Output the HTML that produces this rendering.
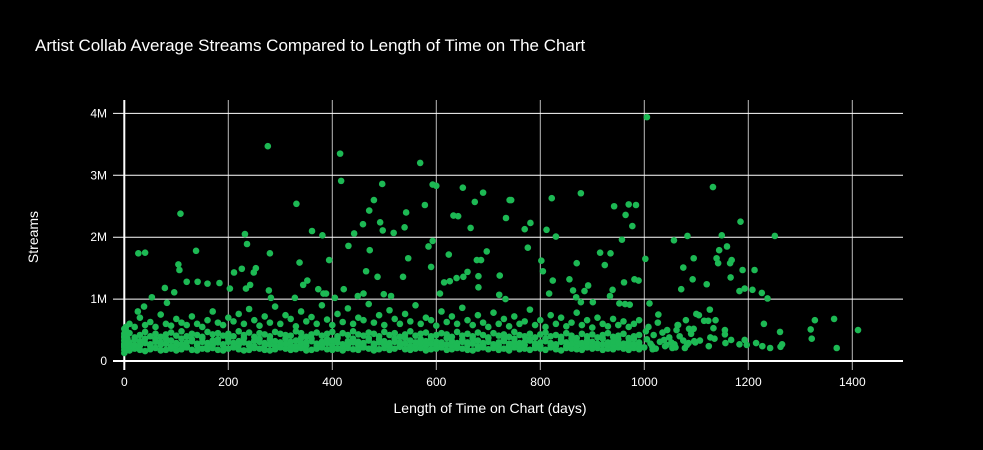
<!DOCTYPE html>
<html><head><meta charset="utf-8">
<style>
html,body{margin:0;padding:0;background:#000;}
svg{display:block;font-family:"Liberation Sans",sans-serif;}
</style></head>
<body>
<svg id="chart" width="983" height="450">
<rect width="983" height="450" fill="#000"/>
<text x="35" y="51" fill="#fff" font-size="17">Artist Collab Average Streams Compared to Length of Time on The Chart</text>
<g id="grid"></g>
<g id="pts"></g>
<g id="ticks"></g>
<text x="490" y="413" fill="#fff" font-size="14" text-anchor="middle">Length of Time on Chart (days)</text>
<text transform="translate(38,237) rotate(-90)" fill="#fff" font-size="14" text-anchor="middle">Streams</text>
</svg>
<script>
const xTicks=[0,200,400,600,800,1000,1200,1400];
const yTicks=[0,1,2,3,4];
const yTickLabels=["0","1M","2M","3M","4M"];
const outDays=[276,415,417,569,496,593,600,651,690,741,108,331,480,471,578,674,633,642,734,542,492,539,497,518,459,442,361,381,431,472,666,593,585,624,697,678,686,546,590,232,236,280,138,27,40,104,106,337,394,226,211,253,249,465,487,536,722,660,652,639,626,615,681,681,120,141,160,183,78,96,53,82,38,26,203,234,242,278,344,352,373,383,388,422,405,460,449,499,513,607,721,733,328,282,
1005,1132,744,822,878,770,781,812,830,776,942,970,984,964,977,957,1185,1083,1057,1149,1251,1159,1144,915,935,924,1002,870,802,805,1095,1075,1139,1142,1168,1165,1189,1212,1166,1093,1120,1071,1183,1193,1208,1226,1237,961,981,989,856,824,892,885,863,869,939,934,817,901,878,952,963,972,1010,1027,1126,1105,1100,1115,1123,1137,1080,1065,1062,1095,1133,1155,1155,1230,1261,1328,1365,1320,1322,1411,1370,1262,1265,1242,1227,1215,1197,1193,1183,1167,1156,1124,1135,1127,1107,1096,1085,1054,1043,1015];
const outVals=[3.47,3.35,2.91,3.2,2.86,2.85,2.83,2.8,2.72,2.6,2.38,2.54,2.6,2.43,2.52,2.57,2.35,2.34,2.31,2.4,2.24,2.16,2.11,2.07,2.21,2.06,2.1,2.03,1.86,1.79,2.15,1.94,1.85,1.72,1.77,1.63,1.63,1.66,1.52,2.05,1.89,1.74,1.78,1.74,1.75,1.56,1.47,1.59,1.63,1.49,1.43,1.5,1.43,1.45,1.36,1.36,1.38,1.44,1.36,1.34,1.29,1.27,1.37,1.19,1.28,1.28,1.25,1.26,1.18,1.11,1.03,0.94,0.88,0.8,1.17,1.17,1.23,1.14,1.23,1.3,1.16,1.09,1.09,1.16,1.02,1.09,1.05,1.08,1.05,1.09,1.07,1.0,1.02,1.02,
3.94,2.81,2.6,2.63,2.71,2.13,2.23,2.12,2.01,1.83,2.5,2.53,2.52,2.36,2.18,1.96,2.25,2.02,1.95,2.03,2.02,1.85,1.79,1.75,1.74,1.55,1.65,1.58,1.62,1.45,1.66,1.51,1.66,1.58,1.63,1.58,1.47,1.47,1.35,1.32,1.24,1.16,1.13,1.17,1.15,1.1,1.01,1.27,1.32,1.3,1.32,1.3,1.22,1.13,1.14,1.03,1.15,1.05,1.09,0.95,0.95,0.93,0.92,0.91,0.93,0.75,0.83,0.74,0.76,0.65,0.65,0.66,0.66,0.58,0.5,0.52,0.53,0.5,0.43,0.6,0.47,0.66,0.68,0.51,0.36,0.5,0.21,0.23,0.27,0.21,0.24,0.29,0.26,0.34,0.27,0.34,0.29,0.24,0.36,0.38,0.33,0.32,0.29,0.21,0.26,0.24];
const bandDays=[0,10,20,30,40,50,60,70,80,90,100,110,120,130,140,150,160,170,180,190,200,210,220,230,240,250,260,270,280,290,300,310,320,330,340,350,360,370,380,390,400,410,420,430,440,450,460,470,480,490,500,510,520,530,540,550,560,570,580,590,600,610,620,630,640,650,660,670,680,690,700,710,720,730,740,750,760,770,780,790,800,810,820,830,840,850,860,870,880,890,900,910,920,930,940,950,960,970,980,990];
const bandLow=[0.18,0.17,0.2,0.18,0.16,0.19,0.21,0.17,0.18,0.2,0.17,0.19,0.22,0.18,0.17,0.2,0.19,0.21,0.18,0.17,0.2,0.22,0.19,0.17,0.18,0.21,0.2,0.18,0.17,0.19,0.22,0.2,0.18,0.19,0.21,0.17,0.18,0.2,0.22,0.19,0.18,0.2,0.17,0.21,0.19,0.18,0.22,0.2,0.17,0.19,0.21,0.18,0.2,0.23,0.19,0.18,0.2,0.21,0.17,0.19,0.2,0.22,0.18,0.19,0.21,0.2,0.18,0.17,0.2,0.22,0.19,0.21,0.18,0.2,0.17,0.22,0.19,0.2,0.18,0.21,0.2,0.18,0.22,0.19,0.17,0.21,0.2,0.19,0.18,0.22,0.2,0.21,0.18,0.2,0.19,0.22,0.2,0.18,0.21,0.19];
const bandMid=[0.28,0.3,0.26,0.32,0.29,0.27,0.31,0.3,0.28,0.33,0.29,0.27,0.3,0.32,0.28,0.31,0.29,0.33,0.3,0.27,0.31,0.29,0.32,0.3,0.28,0.33,0.31,0.29,0.27,0.32,0.3,0.28,0.31,0.33,0.29,0.3,0.32,0.28,0.31,0.29,0.33,0.3,0.27,0.32,0.3,0.31,0.29,0.33,0.28,0.3,0.32,0.29,0.31,0.3,0.28,0.33,0.3,0.29,0.32,0.28,0.31,0.3,0.27,0.32,0.29,0.31,0.3,0.28,0.33,0.29,0.31,0.27,0.3,0.32,0.28,0.3,0.29,0.31,0.33,0.28,0.3,0.32,0.29,0.27,0.31,0.3,0.28,0.32,0.29,0.3,0.31,0.28,0.27,0.3,0.32,0.29,0.28,0.31,0.27,0.3];
const bandHigh=[0.4,0.45,0.38,0.42,0.47,0.4,0.44,0.39,0.43,0.46,0.41,0.48,0.4,0.44,0.42,0.39,0.47,0.43,0.45,0.41,0.44,0.4,0.48,0.42,0.46,0.39,0.45,0.43,0.4,0.47,0.44,0.42,0.41,0.48,0.45,0.39,0.43,0.46,0.41,0.44,0.47,0.4,0.45,0.42,0.48,0.43,0.41,0.46,0.44,0.4,0.47,0.42,0.45,0.39,0.43,0.48,0.41,0.44,0.46,0.4,0.42,0.45,0.43,0.39,0.47,0.41,0.44,0.4,0.46,0.42,0.38,0.45,0.41,0.43,0.39,0.47,0.42,0.4,0.44,0.38,0.43,0.46,0.4,0.42,0.39,0.45,0.41,0.37,0.44,0.4,0.43,0.38,0.42,0.45,0.39,0.41,0.44,0.37,0.4,0.42];
const bandUpper=[0.52,0.6,0.55,0.7,0.58,0.63,0.55,0.75,0.6,0.57,0.68,0.62,0.58,0.72,0.6,0.55,0.66,0.8,0.62,0.58,0.7,0.64,0.76,0.6,0.84,0.66,0.57,0.72,0.62,0.88,0.6,0.74,0.68,0.56,0.8,0.64,0.71,0.6,0.9,0.67,0.58,0.76,0.63,0.85,0.6,0.7,0.66,0.92,0.62,0.74,0.58,0.82,0.68,0.6,0.76,0.64,0.9,0.6,0.7,0.66,0.57,0.8,0.63,0.72,0.6,0.86,0.66,0.58,0.74,0.62,0.55,0.78,0.6,0.68,0.56,0.72,0.6,0.64,0.83,0.58,0.66,0.55,0.74,0.6,0.7,0.56,0.62,0.78,0.58,0.66,0.54,0.7,0.6,0.56,0.68,0.58,0.64,0.55,0.6,0.66];
const bandExtra=[0.24,0.23,0.35,0.25,0.36,0.24,0.35,0.26,0.36,0.24,0.25,0.36,0.24,0.35,0.25,0.37,0.24,0.26,0.35,0.25,0.36,0.24,0.26,0.37,0.25,0.24,0.36,0.25,0.35,0.24,0.26,0.36,0.25,0.24,0.37,0.25,0.36,0.24,0.26,0.35,0.25,0.37,0.24,0.26,0.36,0.25,0.24,0.37,0.25,0.35,0.26,0.24,0.36,0.25,0.37,0.24,0.26,0.35,0.25,0.36,0.24,0.26,0.37,0.25,0.24,0.35,0.26,0.36,0.24,0.25,0.37,0.24,0.26,0.35,0.25,0.36,0.24,0.26,0.35,0.25,0.24,0.36,0.26,0.25,0.35,0.24,0.36,0.25,0.26,0.34,0.25,0.24,0.36,0.25,0.26,0.35,0.24,0.25,0.36,0.26];
const tailDays=[1000,1005,1012,1018,1022,1030,1035,1040,1048,1052,1060,1068,1075,1082,1090,1098,1008,1026,1044,1064,1086,1003,1016,1038,1058,1078];
const tailVals=[0.22,0.35,0.28,0.42,0.2,0.31,0.46,0.24,0.38,0.3,0.22,0.4,0.33,0.26,0.44,0.3,0.55,0.62,0.5,0.58,0.52,0.48,0.19,0.34,0.27,0.21];
const startDays=[0,0,0,0,0,0,2,2,2,4,4,4,6,6,1,3,5];
const startVals=[0.13,0.22,0.27,0.33,0.38,0.44,0.16,0.25,0.4,0.19,0.3,0.48,0.21,0.36,0.5,0.55,0.29];

const X0=124.3,PXD=0.52,Y0=361,PXM=61.9;
const xScale=d=>X0+d*PXD;
const yScale=v=>Y0-v*PXM;
const NS="http://www.w3.org/2000/svg";
const grid=document.getElementById('grid'),pts=document.getElementById('pts'),ticks=document.getElementById('ticks');
function mk(tag,attrs,parent){const e=document.createElementNS(NS,tag);for(const k in attrs)e.setAttribute(k,attrs[k]);parent.appendChild(e);return e;}
xTicks.forEach(t=>{
  const x=xScale(t);
  const l=mk('line',{x1:x,x2:x,y1:100,y2:370,stroke:t===0?'#fff':'#bbb','stroke-width':t===0?2:1},grid);
  
  
  const tx=mk('text',{x:x,y:386,fill:'#fff','font-size':12,'text-anchor':'middle'},ticks);
  tx.textContent=t;
  
  
});
yTicks.forEach((t,i)=>{
  const y=yScale(t);
  const l=mk('line',{x1:113,x2:903,y1:y,y2:y,stroke:'#fff','stroke-width':t===0?2:1},grid);
  
  
  const tx=mk('text',{x:107,y:y+4,fill:'#fff','font-size':12,'text-anchor':'end'},ticks);
  tx.textContent=yTickLabels[i];
  
  
});
function dot(d,v){
  const c=mk('circle',{cx:xScale(d),cy:yScale(v),r:3.3,fill:'#1db954'},pts);
  
  
}
[bandLow,bandExtra,bandMid,bandHigh,bandUpper].forEach(arr=>arr.forEach((v,i)=>dot(bandDays[i],v)));
tailDays.forEach((d,i)=>dot(d,tailVals[i]));
startDays.forEach((d,i)=>dot(d,startVals[i]));
outDays.forEach((d,i)=>dot(d,outVals[i]));
</script>
</body></html>
